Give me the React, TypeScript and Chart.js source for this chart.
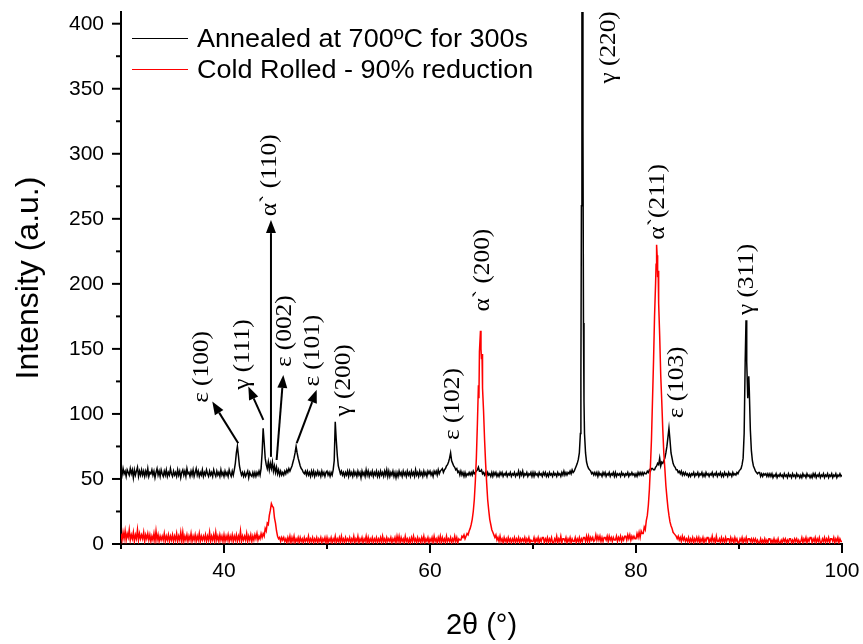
import React, { useEffect, useRef } from 'react';
import { Chart, registerables } from 'chart.js';

Chart.register(...registerables);

// Annealed at 700ºC for 300s: [2θ, intensity]
const annealed: [number, number][] = [
  [30.0,57],[30.1,53],[30.2,58],[30.3,54],[30.4,56],[30.5,52],[30.6,57],[30.7,55],[30.8,53],[30.9,58],
  [31.0,54],[31.1,57],[31.2,51],[31.3,57],[31.4,53],[31.5,56],[31.6,59],[31.7,52],[31.8,56],[31.9,53],
  [32.0,57],[32.1,53],[32.2,56],[32.3,52],[32.4,56],[32.5,53],[32.6,58],[32.7,52],[32.8,55],[32.9,54],
  [33.0,57],[33.1,53],[33.2,56],[33.3,51],[33.4,55],[33.5,58],[33.6,53],[33.7,56],[33.8,52],[33.9,57],
  [34.0,54],[34.1,52],[34.2,56],[34.3,53],[34.4,57],[34.5,52],[34.6,55],[34.7,53],[34.8,58],[34.9,54],
  [35.0,52],[35.1,56],[35.2,53],[35.3,55],[35.4,52],[35.5,57],[35.6,53],[35.7,56],[35.8,51],[35.9,55],
  [36.0,57],[36.1,53],[36.2,56],[36.3,52],[36.4,58],[36.5,54],[36.6,55],[36.7,52],[36.8,56],[36.9,53],
  [37.0,57],[37.1,52],[37.2,55],[37.3,58],[37.4,53],[37.5,56],[37.6,52],[37.7,55],[37.8,53],[37.9,57],
  [38.0,52],[38.1,55],[38.2,53],[38.3,57],[38.4,54],[38.5,52],[38.6,56],[38.7,53],[38.8,55],[38.9,52],
  [39.0,57],[39.1,54],[39.2,52],[39.3,56],[39.4,53],[39.5,55],[39.6,52],[39.7,57],[39.8,53],[39.9,55],
  [40.0,52],[40.1,56],[40.2,53],[40.3,55],[40.4,52],[40.5,57],[40.6,54],[40.7,52],[40.8,56],[40.9,53],
  [41.0,57],[41.1,62],[41.2,70],[41.3,75],[41.4,68],[41.5,60],[41.6,56],[41.7,53],[41.8,55],[41.9,52],
  [42.0,55],[42.1,52],[42.2,54],[42.3,56],[42.4,51],[42.5,55],[42.6,53],[42.7,52],[42.8,55],[42.9,52],
  [43.0,55],[43.1,52],[43.2,55],[43.3,53],[43.4,56],[43.5,53],[43.6,58],[43.7,70],[43.8,89],[43.9,78],
  [44.0,66],[44.1,61],[44.2,58],[44.3,63],[44.4,57],[44.5,62],[44.6,58],[44.7,63],[44.8,56],[44.9,60],
  [45.0,55],[45.1,59],[45.2,54],[45.3,57],[45.4,53],[45.5,56],[45.6,53],[45.7,55],[45.8,53],[45.9,56],
  [46.0,54],[46.1,57],[46.2,55],[46.3,58],[46.4,56],[46.5,58],[46.6,60],[46.7,63],[46.8,66],[46.9,70],
  [47.0,75],[47.1,70],[47.2,66],[47.3,63],[47.4,60],[47.5,58],[47.6,57],[47.7,55],[47.8,54],[47.9,56],
  [48.0,53],[48.1,56],[48.2,53],[48.3,55],[48.4,52],[48.5,56],[48.6,53],[48.7,56],[48.8,52],[48.9,55],
  [49.0,53],[49.1,56],[49.2,53],[49.3,55],[49.4,52],[49.5,56],[49.6,53],[49.7,55],[49.8,52],[49.9,55],
  [50.0,56],[50.1,53],[50.2,55],[50.3,52],[50.4,55],[50.5,53],[50.6,57],[50.7,64],[50.8,94],[50.9,80],
  [51.0,68],[51.1,60],[51.2,57],[51.3,54],[51.4,56],[51.5,53],[51.6,55],[51.7,52],[51.8,55],[51.9,53],
  [52.0,56],[52.1,52],[52.2,56],[52.3,53],[52.4,55],[52.5,52],[52.6,56],[52.7,53],[52.8,55],[52.9,52],
  [53.0,56],[53.1,53],[53.2,55],[53.3,51],[53.4,56],[53.5,53],[53.6,55],[53.7,52],[53.8,57],[53.9,53],
  [54.0,56],[54.1,52],[54.2,55],[54.3,53],[54.4,56],[54.5,52],[54.6,55],[54.7,53],[54.8,56],[54.9,52],
  [55.0,55],[55.1,52],[55.2,56],[55.3,53],[55.4,55],[55.5,52],[55.6,56],[55.7,53],[55.8,57],[55.9,52],
  [56.0,56],[56.1,52],[56.2,55],[56.3,53],[56.4,56],[56.5,52],[56.6,55],[56.7,51],[56.8,55],[56.9,52],
  [57.0,56],[57.1,53],[57.2,55],[57.3,52],[57.4,56],[57.5,53],[57.6,55],[57.7,52],[57.8,56],[57.9,53],
  [58.0,55],[58.1,52],[58.2,56],[58.3,53],[58.4,55],[58.5,52],[58.6,57],[58.7,53],[58.8,55],[58.9,52],
  [59.0,56],[59.1,53],[59.2,55],[59.3,52],[59.4,56],[59.5,53],[59.6,55],[59.7,52],[59.8,56],[59.9,54],
  [60.0,56],[60.1,53],[60.2,55],[60.3,52],[60.4,56],[60.5,54],[60.6,56],[60.7,53],[60.8,57],[60.9,54],
  [61.0,56],[61.1,57],[61.2,58],[61.3,55],[61.4,57],[61.5,58],[61.6,60],[61.7,61],[61.8,63],[61.9,66],
  [62.0,70],[62.1,64],[62.2,62],[62.3,60],[62.4,59],[62.5,57],[62.6,58],[62.7,55],[62.8,56],[62.9,53],
  [63.0,56],[63.1,53],[63.2,55],[63.3,52],[63.4,55],[63.5,52],[63.6,54],[63.7,53],[63.8,55],[63.9,53],
  [64.0,55],[64.1,53],[64.2,56],[64.3,54],[64.4,55],[64.5,56],[64.6,57],[64.7,59],[64.8,56],[64.9,56],
  [65.0,57],[65.1,54],[65.2,55],[65.3,53],[65.4,55],[65.5,52],[65.6,55],[65.7,53],[65.8,54],[65.9,52],
  [66.0,55],[66.1,52],[66.2,55],[66.3,53],[66.4,55],[66.5,52],[66.6,54],[66.7,52],[66.8,55],[66.9,53],
  [67.0,55],[67.1,52],[67.2,54],[67.3,53],[67.4,55],[67.5,52],[67.6,54],[67.7,53],[67.8,55],[67.9,52],
  [68.0,54],[68.1,53],[68.2,55],[68.3,52],[68.4,54],[68.5,53],[68.6,56],[68.7,52],[68.8,55],[68.9,53],
  [69.0,56],[69.1,52],[69.2,54],[69.3,53],[69.4,55],[69.5,52],[69.6,54],[69.7,53],[69.8,55],[69.9,52],
  [70.0,55],[70.1,52],[70.2,55],[70.3,53],[70.4,54],[70.5,52],[70.6,55],[70.7,53],[70.8,54],[70.9,52],
  [71.0,55],[71.1,53],[71.2,55],[71.3,52],[71.4,54],[71.5,52],[71.6,55],[71.7,53],[71.8,54],[71.9,52],
  [72.0,55],[72.1,53],[72.2,54],[72.3,52],[72.4,55],[72.5,53],[72.6,54],[72.7,52],[72.8,55],[72.9,53],
  [73.0,56],[73.1,53],[73.2,55],[73.3,53],[73.4,55],[73.5,54],[73.6,56],[73.7,54],[73.8,57],[73.9,55],
  [74.0,56],[74.1,58],[74.2,60],[74.3,62],[74.4,65],[74.5,70],[74.6,85],[74.65,130],[74.7,260],[74.75,520],
  [74.8,470],[74.85,320],[74.9,170],[74.95,110],[75.0,85],[75.1,70],[75.2,63],[75.3,60],[75.4,58],[75.5,57],
  [75.6,56],[75.7,54],[75.8,55],[75.9,53],
  [76.0,55],[76.1,53],[76.2,55],[76.3,52],[76.4,55],[76.5,53],[76.6,54],[76.7,52],[76.8,55],[76.9,53],
  [77.0,55],[77.1,52],[77.2,54],[77.3,53],[77.4,55],[77.5,52],[77.6,54],[77.7,53],[77.8,55],[77.9,52],
  [78.0,55],[78.1,52],[78.2,54],[78.3,53],[78.4,54],[78.5,52],[78.6,55],[78.7,53],[78.8,54],[78.9,52],
  [79.0,54],[79.1,53],[79.2,55],[79.3,52],[79.4,54],[79.5,53],[79.6,55],[79.7,53],[79.8,54],[79.9,52],
  [80.0,54],[80.1,52],[80.2,55],[80.3,53],[80.4,55],[80.5,53],[80.6,55],[80.7,53],[80.8,55],[80.9,54],
  [81.0,54],[81.1,56],[81.2,55],[81.3,57],[81.4,56],[81.5,58],[81.6,58],[81.7,57],[81.8,57],[81.9,59],
  [82.0,60],[82.1,62],[82.2,61],[82.3,66],[82.4,60],[82.5,63],[82.6,62],[82.7,64],[82.8,66],[82.9,70],
  [83.0,75],[83.1,82],[83.2,89],[83.3,80],[83.4,70],[83.5,66],[83.6,62],[83.7,60],[83.8,59],[83.9,57],
  [84.0,57],[84.1,55],[84.2,56],[84.3,54],[84.4,56],[84.5,53],[84.6,55],[84.7,53],[84.8,55],[84.9,53],
  [85.0,54],[85.1,52],[85.2,54],[85.3,52],[85.4,54],[85.5,53],[85.6,55],[85.7,52],[85.8,54],[85.9,53],
  [86.0,55],[86.1,52],[86.2,54],[86.3,53],[86.4,55],[86.5,52],[86.6,54],[86.7,52],[86.8,55],[86.9,53],
  [87.0,54],[87.1,52],[87.2,54],[87.3,53],[87.4,55],[87.5,52],[87.6,54],[87.7,53],[87.8,55],[87.9,52],
  [88.0,54],[88.1,53],[88.2,55],[88.3,52],[88.4,54],[88.5,52],[88.6,55],[88.7,53],[88.8,54],[88.9,52],
  [89.0,55],[89.1,53],[89.2,54],[89.3,52],[89.4,55],[89.5,53],[89.6,54],[89.7,53],[89.8,55],[89.9,54],
  [90.0,56],[90.1,57],[90.2,58],[90.3,61],[90.4,66],[90.5,85],[90.6,140],[90.68,172],[90.75,140],[90.85,112],
  [90.95,129],[91.0,118],[91.1,88],[91.2,72],[91.3,64],[91.4,60],[91.5,58],[91.6,56],[91.7,55],[91.8,54],[91.9,55],
  [92.0,55],[92.1,52],[92.2,54],[92.3,52],[92.4,54],[92.5,53],[92.6,54],[92.7,52],[92.8,54],[92.9,52],
  [93.0,54],[93.1,52],[93.2,54],[93.3,51],[93.4,53],[93.5,52],[93.6,54],[93.7,51],[93.8,53],[93.9,52],
  [94.0,54],[94.1,52],[94.2,53],[94.3,51],[94.4,54],[94.5,52],[94.6,53],[94.7,51],[94.8,54],[94.9,52],
  [95.0,53],[95.1,51],[95.2,54],[95.3,52],[95.4,53],[95.5,51],[95.6,54],[95.7,52],[95.8,53],[95.9,51],
  [96.0,53],[96.1,51],[96.2,54],[96.3,52],[96.4,53],[96.5,51],[96.6,54],[96.7,52],[96.8,53],[96.9,51],
  [97.0,53],[97.1,51],[97.2,54],[97.3,52],[97.4,54],[97.5,51],[97.6,53],[97.7,52],[97.8,54],[97.9,51],
  [98.0,53],[98.1,52],[98.2,54],[98.3,51],[98.4,53],[98.5,52],[98.6,54],[98.7,51],[98.8,53],[98.9,52],
  [99.0,54],[99.1,51],[99.2,53],[99.3,52],[99.4,54],[99.5,51],[99.6,53],[99.7,52],[99.8,54],[99.9,52],
  [100.0,53],
];

// Cold Rolled - 90% reduction: [2θ, intensity]
const coldRolled: [number, number][] = [
  [30.0,8],[30.1,3],[30.2,9],[30.3,4],[30.4,10],[30.5,3],[30.6,8],[30.7,5],[30.8,11],[30.9,3],
  [31.0,7],[31.1,4],[31.2,9],[31.3,2],[31.4,7],[31.5,4],[31.6,11],[31.7,3],[31.8,8],[31.9,4],
  [32.0,7],[32.1,4],[32.2,9],[32.3,2],[32.4,7],[32.5,4],[32.6,8],[32.7,3],[32.8,7],[32.9,2],
  [33.0,6],[33.1,3],[33.2,8],[33.3,2],[33.4,10],[33.5,3],[33.6,7],[33.7,2],[33.8,6],[33.9,3],
  [34.0,6],[34.1,3],[34.2,8],[34.3,2],[34.4,6],[34.5,3],[34.6,7],[34.7,2],[34.8,6],[34.9,3],
  [35.0,7],[35.1,2],[35.2,6],[35.3,3],[35.4,8],[35.5,2],[35.6,6],[35.7,3],[35.8,9],[35.9,2],
  [36.0,9],[36.1,2],[36.2,6],[36.3,3],[36.4,7],[36.5,2],[36.6,6],[36.7,3],[36.8,8],[36.9,2],
  [37.0,6],[37.1,3],[37.2,7],[37.3,2],[37.4,6],[37.5,3],[37.6,8],[37.7,2],[37.8,6],[37.9,3],
  [38.0,6],[38.1,3],[38.2,7],[38.3,2],[38.4,6],[38.5,3],[38.6,9],[38.7,2],[38.8,6],[38.9,3],
  [39.0,7],[39.1,2],[39.2,9],[39.3,3],[39.4,6],[39.5,2],[39.6,7],[39.7,3],[39.8,6],[39.9,2],
  [40.0,7],[40.1,2],[40.2,6],[40.3,3],[40.4,7],[40.5,2],[40.6,6],[40.7,3],[40.8,7],[40.9,2],
  [41.0,6],[41.1,3],[41.2,7],[41.3,2],[41.4,6],[41.5,3],[41.6,10],[41.7,2],[41.8,6],[41.9,3],
  [42.0,6],[42.1,3],[42.2,8],[42.3,2],[42.4,6],[42.5,3],[42.6,7],[42.7,2],[42.8,6],[42.9,3],
  [43.0,7],[43.1,4],[43.2,8],[43.3,3],[43.4,6],[43.5,4],[43.6,8],[43.7,5],[43.8,8],[43.9,6],
  [44.0,12],[44.1,10],[44.2,16],[44.3,15],[44.4,22],[44.5,26],[44.6,31],[44.7,29],[44.8,28],[44.9,20],
  [45.0,16],[45.1,10],[45.2,6],[45.3,4],[45.4,5],[45.5,2],[45.6,5],[45.7,3],[45.8,5],[45.9,2],
  [46.0,4],[46.1,1],[46.2,5],[46.3,2],[46.4,6],[46.5,1],[46.6,5],[46.7,2],[46.8,6],[46.9,1],
  [47.0,4],[47.1,2],[47.2,5],[47.3,1],[47.4,5],[47.5,2],[47.6,4],[47.7,1],[47.8,5],[47.9,2],
  [48.0,4],[48.1,2],[48.2,6],[48.3,1],[48.4,4],[48.5,2],[48.6,5],[48.7,1],[48.8,4],[48.9,2],
  [49.0,5],[49.1,1],[49.2,4],[49.3,2],[49.4,5],[49.5,1],[49.6,4],[49.7,2],[49.8,5],[49.9,1],
  [50.0,5],[50.1,1],[50.2,4],[50.3,2],[50.4,5],[50.5,1],[50.6,4],[50.7,2],[50.8,6],[50.9,1],
  [51.0,4],[51.1,2],[51.2,5],[51.3,1],[51.4,6],[51.5,2],[51.6,4],[51.7,1],[51.8,5],[51.9,2],
  [52.0,4],[52.1,2],[52.2,5],[52.3,1],[52.4,4],[52.5,2],[52.6,6],[52.7,1],[52.8,4],[52.9,2],
  [53.0,6],[53.1,1],[53.2,4],[53.3,2],[53.4,5],[53.5,1],[53.6,4],[53.7,2],[53.8,6],[53.9,1],
  [54.0,5],[54.1,1],[54.2,4],[54.3,2],[54.4,5],[54.5,1],[54.6,4],[54.7,2],[54.8,5],[54.9,1],
  [55.0,4],[55.1,2],[55.2,5],[55.3,1],[55.4,6],[55.5,2],[55.6,4],[55.7,1],[55.8,5],[55.9,2],
  [56.0,4],[56.1,2],[56.2,5],[56.3,1],[56.4,4],[56.5,2],[56.6,5],[56.7,1],[56.8,6],[56.9,2],
  [57.0,6],[57.1,1],[57.2,5],[57.3,2],[57.4,4],[57.5,1],[57.6,6],[57.7,2],[57.8,4],[57.9,1],
  [58.0,4],[58.1,1],[58.2,5],[58.3,2],[58.4,6],[58.5,2],[58.6,4],[58.7,1],[58.8,5],[58.9,2],
  [59.0,4],[59.1,1],[59.2,5],[59.3,2],[59.4,6],[59.5,1],[59.6,4],[59.7,2],[59.8,5],[59.9,1],
  [60.0,4],[60.1,2],[60.2,5],[60.3,1],[60.4,6],[60.5,2],[60.6,4],[60.7,1],[60.8,5],[60.9,2],
  [61.0,6],[61.1,1],[61.2,5],[61.3,2],[61.4,4],[61.5,1],[61.6,6],[61.7,2],[61.8,4],[61.9,2],
  [62.0,5],[62.1,1],[62.2,4],[62.3,2],[62.4,6],[62.5,2],[62.6,5],[62.7,1],[62.8,4],[62.9,3],
  [63.0,3],[63.1,6],[63.2,5],[63.3,7],[63.4,4],[63.5,6],[63.6,8],[63.7,7],[63.8,10],[63.9,12],
  [64.0,15],[64.1,19],[64.2,25],[64.3,34],[64.4,48],[64.5,66],[64.6,92],[64.7,122],[64.75,112],[64.8,148],
  [64.9,164],[64.95,150],[65.0,142],[65.05,146],[65.1,120],[65.2,102],[65.3,80],[65.4,62],[65.5,47],[65.6,34],
  [65.7,26],[65.8,19],[65.9,15],
  [66.0,11],[66.1,9],[66.2,7],[66.3,5],[66.4,7],[66.5,3],[66.6,5],[66.7,2],[66.8,6],[66.9,2],
  [67.0,4],[67.1,1],[67.2,5],[67.3,2],[67.4,4],[67.5,1],[67.6,5],[67.7,2],[67.8,4],[67.9,1],
  [68.0,4],[68.1,2],[68.2,5],[68.3,1],[68.4,4],[68.5,2],[68.6,5],[68.7,1],[68.8,4],[68.9,2],
  [69.0,4],[69.1,2],[69.2,5],[69.3,1],[69.4,4],[69.5,2],[69.6,5],[69.7,1],[69.8,3],[69.9,2],
  [70.0,2],[70.1,5],[70.2,1],[70.3,4],[70.4,2],[70.5,5],[70.6,1],[70.7,4],[70.8,2],[70.9,5],
  [71.0,5],[71.1,1],[71.2,4],[71.3,2],[71.4,5],[71.5,1],[71.6,4],[71.7,2],[71.8,5],[71.9,1],
  [72.0,1],[72.1,4],[72.2,2],[72.3,6],[72.4,1],[72.5,4],[72.6,2],[72.7,6],[72.8,1],[72.9,4],
  [73.0,4],[73.1,2],[73.2,5],[73.3,1],[73.4,4],[73.5,2],[73.6,5],[73.7,1],[73.8,4],[73.9,2],
  [74.0,2],[74.1,5],[74.2,1],[74.3,4],[74.4,2],[74.5,5],[74.6,1],[74.7,4],[74.8,2],[74.9,5],
  [75.0,5],[75.1,2],[75.2,6],[75.3,2],[75.4,6],[75.5,2],[75.6,5],[75.7,3],[75.8,5],[75.9,2],
  [76.0,3],[76.1,7],[76.2,3],[76.3,6],[76.4,3],[76.5,6],[76.6,2],[76.7,5],[76.8,2],[76.9,5],
  [77.0,5],[77.1,3],[77.2,6],[77.3,2],[77.4,6],[77.5,3],[77.6,5],[77.7,2],[77.8,5],[77.9,3],
  [78.0,3],[78.1,6],[78.2,2],[78.3,5],[78.4,3],[78.5,6],[78.6,2],[78.7,5],[78.8,3],[78.9,6],
  [79.0,6],[79.1,3],[79.2,7],[79.3,4],[79.4,7],[79.5,3],[79.6,6],[79.7,4],[79.8,6],[79.9,4],
  [80.0,4],[80.1,8],[80.2,5],[80.3,9],[80.4,5],[80.5,10],[80.6,8],[80.7,8],[80.8,13],[80.9,11],
  [81.0,18],[81.1,22],[81.2,30],[81.3,42],[81.4,60],[81.5,80],[81.6,110],[81.7,140],[81.8,175],[81.9,200],
  [81.95,215],[82.0,230],[82.05,222],[82.1,205],[82.15,210],[82.2,185],[82.3,160],[82.4,130],[82.5,110],[82.6,88],
  [82.7,70],[82.8,58],[82.9,45],
  [83.0,36],[83.1,28],[83.2,22],[83.3,17],[83.4,14],[83.5,12],[83.6,9],[83.7,8],[83.8,7],[83.9,6],
  [84.0,4],[84.1,6],[84.2,3],[84.3,5],[84.4,2],[84.5,6],[84.6,3],[84.7,5],[84.8,2],[84.9,4],
  [85.0,2],[85.1,5],[85.2,1],[85.3,4],[85.4,2],[85.5,5],[85.6,1],[85.7,4],[85.8,2],[85.9,5],
  [86.0,2],[86.1,5],[86.2,1],[86.3,4],[86.4,2],[86.5,5],[86.6,1],[86.7,4],[86.8,2],[86.9,5],
  [87.0,5],[87.1,1],[87.2,4],[87.3,2],[87.4,6],[87.5,2],[87.6,4],[87.7,1],[87.8,6],[87.9,2],
  [88.0,2],[88.1,4],[88.2,1],[88.3,5],[88.4,2],[88.5,4],[88.6,1],[88.7,5],[88.8,2],[88.9,4],
  [89.0,4],[89.1,1],[89.2,5],[89.3,2],[89.4,4],[89.5,1],[89.6,5],[89.7,2],[89.8,4],[89.9,1],
  [90.0,1],[90.1,4],[90.2,2],[90.3,5],[90.4,1],[90.5,4],[90.6,2],[90.7,5],[90.8,1],[90.9,4],
  [91.0,4],[91.1,2],[91.2,4],[91.3,1],[91.4,4],[91.5,2],[91.6,4],[91.7,1],[91.8,3],[91.9,1],
  [92.0,1],[92.1,4],[92.2,1],[92.3,3],[92.4,1],[92.5,4],[92.6,1],[92.7,3],[92.8,1],[92.9,4],
  [93.0,4],[93.1,1],[93.2,3],[93.3,1],[93.4,4],[93.5,1],[93.6,3],[93.7,1],[93.8,4],[93.9,1],
  [94.0,1],[94.1,3],[94.2,1],[94.3,4],[94.4,2],[94.5,4],[94.6,1],[94.7,3],[94.8,1],[94.9,4],
  [95.0,4],[95.1,1],[95.2,3],[95.3,1],[95.4,4],[95.5,2],[95.6,4],[95.7,1],[95.8,3],[95.9,1],
  [96.0,2],[96.1,5],[96.2,1],[96.3,4],[96.4,2],[96.5,5],[96.6,1],[96.7,4],[96.8,2],[96.9,5],
  [97.0,5],[97.1,1],[97.2,4],[97.3,2],[97.4,5],[97.5,1],[97.6,4],[97.7,2],[97.8,5],[97.9,1],
  [98.0,1],[98.1,4],[98.2,2],[98.3,5],[98.4,1],[98.5,4],[98.6,2],[98.7,5],[98.8,1],[98.9,4],
  [99.0,4],[99.1,2],[99.2,5],[99.3,1],[99.4,4],[99.5,2],[99.6,5],[99.7,1],[99.8,4],[99.9,2],
  [100.0,2],
];

const seriesNames = ['Annealed at 700ºC for 300s', 'Cold Rolled - 90% reduction'];
const seriesColors = ['#000000', '#ff0000'];

const xTickValues = [40, 60, 80, 100];
const xMinorTickValues = [30, 50, 70, 90];
const yTickValues = [0, 50, 100, 150, 200, 250, 300, 350, 400];
const yMinorTickValues = [25, 75, 125, 175, 225, 275, 325, 375];

// Peak labels: text, 2θ of text centre line, intensity where text starts (bottom)
const peakLabelText = ['ε (100)', 'γ (111)', 'α` (110)', 'ε (002)', 'ε (101)', 'γ (200)', 'ε (102)', 'α` (200)', 'γ (220)', 'α`(211)', 'ε (103)', 'γ (311)'];
const peakLabelAngle = [37.83, 41.87, 44.47, 45.92, 48.67, 51.65, 62.26, 65.18, 77.33, 82.1, 83.95, 90.78];
const peakLabelIntensity = [108.5, 118.5, 252, 136, 121, 98, 80, 178.7, 354, 234, 96.7, 176];

// Arrows: [fromAngle, fromIntensity, toAngle, toIntensity]
const arrowList: [number, number, number, number][] = [
  [41.38, 77.5, 38.86, 109.5],
  [43.82, 95.4, 42.36, 121],
  [44.56, 67, 44.56, 249],
  [45.11, 64.6, 45.76, 130],
  [47.06, 77.5, 49.0, 118.5],
];

const overlayPlugin = {
  id: 'overlay',
  afterDraw(chart: any) {
    const { ctx, chartArea } = chart;
    const xs = chart.scales.x;
    const ys = chart.scales.y;
    ctx.save();
    ctx.strokeStyle = '#000';
    ctx.fillStyle = '#000';
    ctx.lineWidth = 2;
    ctx.lineCap = 'butt';
    const xTick = (v: number, len: number) => {
      const px = xs.getPixelForValue(v);
      ctx.beginPath();
      ctx.moveTo(px, chartArea.bottom);
      ctx.lineTo(px, chartArea.bottom + len);
      ctx.stroke();
    };
    const yTick = (v: number, len: number) => {
      const py = ys.getPixelForValue(v);
      ctx.beginPath();
      ctx.moveTo(chartArea.left, py);
      ctx.lineTo(chartArea.left - len, py);
      ctx.stroke();
    };
    xTickValues.forEach((v) => xTick(v, 9));
    xMinorTickValues.forEach((v) => xTick(v, 5));
    yTickValues.forEach((v) => yTick(v, 9));
    yMinorTickValues.forEach((v) => yTick(v, 5));

    // arrows
    arrowList.forEach(([a1, i1, a2, i2]) => {
      const x1 = xs.getPixelForValue(a1);
      const y1 = ys.getPixelForValue(i1);
      const x2 = xs.getPixelForValue(a2);
      const y2 = ys.getPixelForValue(i2);
      const ang = Math.atan2(y2 - y1, x2 - x1);
      const headLen = 13;
      const headW = 5;
      const bx = x2 - headLen * Math.cos(ang);
      const by = y2 - headLen * Math.sin(ang);
      ctx.lineWidth = 2;
      ctx.beginPath();
      ctx.moveTo(x1, y1);
      ctx.lineTo(bx, by);
      ctx.stroke();
      ctx.beginPath();
      ctx.moveTo(x2, y2);
      ctx.lineTo(bx + headW * Math.sin(ang), by - headW * Math.cos(ang));
      ctx.lineTo(bx - headW * Math.sin(ang), by + headW * Math.cos(ang));
      ctx.closePath();
      ctx.fill();
    });

    // peak labels
    ctx.font = '23px "Liberation Serif", "Times New Roman", serif';
    ctx.textAlign = 'left';
    ctx.textBaseline = 'middle';
    peakLabelText.forEach((t, i) => {
      const px = xs.getPixelForValue(peakLabelAngle[i]);
      const py = ys.getPixelForValue(peakLabelIntensity[i]);
      ctx.save();
      ctx.translate(px, py);
      ctx.rotate(-Math.PI / 2);
      ctx.scale(1.1, 1);
      ctx.fillText(t, 0, 0);
      ctx.restore();
    });

    // legend
    ctx.font = '25px "Liberation Sans", Arial, sans-serif';
    ctx.textBaseline = 'alphabetic';
    seriesNames.forEach((name, i) => {
      const ly = Math.round(chartArea.top + 26 + i * 31) + 0.5;
      ctx.strokeStyle = seriesColors[i];
      ctx.lineWidth = 1;
      ctx.beginPath();
      ctx.moveTo(chartArea.left + 11, ly);
      ctx.lineTo(chartArea.left + 67, ly);
      ctx.stroke();
      ctx.save();
      ctx.translate(chartArea.left + 76, chartArea.top + 35 + i * 31);
      ctx.scale(1.08, 1);
      ctx.fillStyle = '#000';
      ctx.fillText(name, 0, 0);
      ctx.restore();
    });
    ctx.restore();
  },
};

export default function App() {
  const canvasRef = useRef<HTMLCanvasElement | null>(null);

  useEffect(() => {
    const canvas = canvasRef.current;
    if (!canvas) return;
    const tickFont = { family: '"Liberation Sans", Arial, sans-serif', size: 21, lineHeight: 1 };
    const xTitleFont = { family: '"Liberation Sans", Arial, sans-serif', size: 29, lineHeight: 1.2 };
    const yTitleFont = { family: '"Liberation Sans", Arial, sans-serif', size: 32, lineHeight: 1.2 };
    const clearPadding = (scale: any) => {
      scale.paddingTop = 0;
      scale.paddingBottom = 0;
      scale.paddingLeft = 0;
      scale.paddingRight = 0;
    };
    const chart = new Chart(canvas, {
      type: 'line',
      data: {
        datasets: [
          {
            label: seriesNames[1],
            data: coldRolled.map(([x, y]) => ({ x, y })),
            borderColor: seriesColors[1],
            borderWidth: 1.5,
            pointRadius: 0,
            tension: 0,
            fill: false,
            order: 0,
          },
          {
            label: seriesNames[0],
            data: annealed.map(([x, y]) => ({ x, y })),
            borderColor: seriesColors[0],
            borderWidth: 1.5,
            pointRadius: 0,
            tension: 0,
            fill: false,
            order: 1,
          },
        ],
      },
      options: {
        animation: false,
        responsive: false,
        maintainAspectRatio: false,
        devicePixelRatio: 1,
        layout: { padding: { top: 12, right: 21, left: 0, bottom: 0 } },
        plugins: { legend: { display: false }, tooltip: { enabled: false } },
        scales: {
          x: {
            type: 'linear',
            min: 30,
            max: 100,
            afterBuildTicks: (scale: any) => {
              scale.ticks = xTickValues.map((v) => ({ value: v }));
            },
            afterFit: (scale: any) => {
              scale.height = 100;
              clearPadding(scale);
            },
            grid: { display: false, drawTicks: false, tickLength: 0 },
            border: { display: true, color: '#000', width: 2 },
            ticks: { color: '#000', font: tickFont, padding: 17, maxRotation: 0, autoSkip: false },
            title: { display: true, text: '2θ (°)', color: '#000', font: xTitleFont, padding: { top: 0, bottom: 1 } },
          },
          y: {
            type: 'linear',
            min: 0,
            max: 409,
            afterBuildTicks: (scale: any) => {
              scale.ticks = yTickValues.map((v) => ({ value: v }));
            },
            afterFit: (scale: any) => {
              scale.width = 121;
              clearPadding(scale);
            },
            grid: { display: false, drawTicks: false, tickLength: 0 },
            border: { display: true, color: '#000', width: 2 },
            ticks: { color: '#000', font: tickFont, padding: 17, autoSkip: false },
            title: { display: true, text: 'Intensity (a.u.)', color: '#000', font: yTitleFont, padding: { top: 10, bottom: 0 } },
          },
        },
      },
      plugins: [overlayPlugin],
    } as any);
    return () => chart.destroy();
  }, []);

  return (
    <div style={{ position: 'absolute', left: 0, top: 0, width: 863, height: 644, background: '#fff' }}>
      <canvas ref={canvasRef} width={863} height={644} style={{ display: 'block' }} />
    </div>
  );
}
